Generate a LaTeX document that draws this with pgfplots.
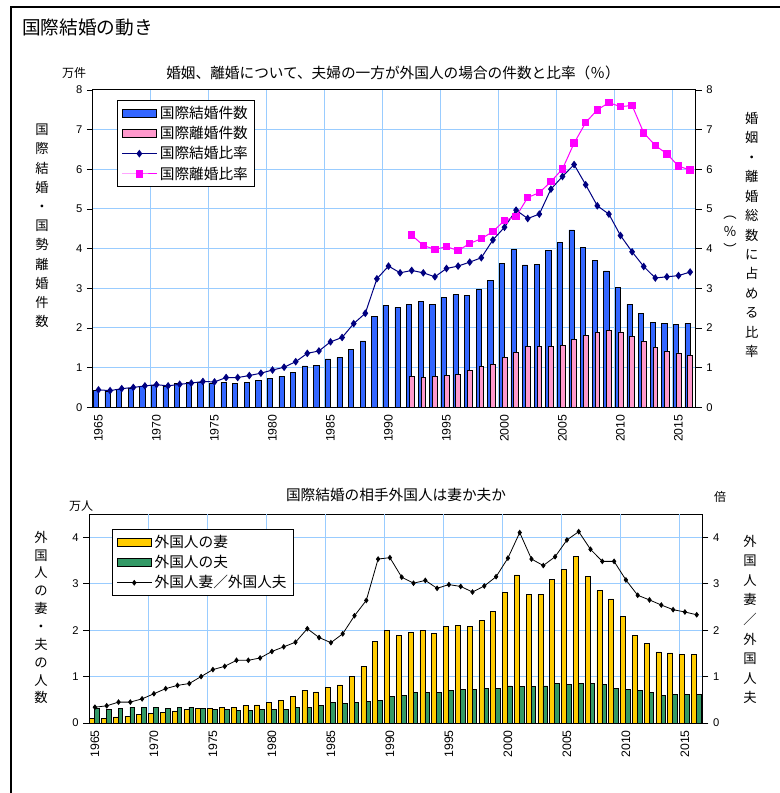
\documentclass[border=0pt]{standalone}
\usepackage{fontspec}
\setmainfont{Liberation Sans}
\newfontfamily\jp{Noto Sans CJK JP}
\usepackage{pgfplots}
\pgfplotsset{compat=1.18}
\definecolor{gridblue}{HTML}{99CCFF}
\definecolor{barblue}{HTML}{3366FF}
\definecolor{barpink}{HTML}{FF99CC}
\definecolor{navyline}{HTML}{000080}
\definecolor{magline}{HTML}{FF00FF}
\definecolor{baryellow}{HTML}{FFCC00}
\definecolor{bargreen}{HTML}{339966}
\pgfplotsset{
  common/.style={
    scale only axis,
    xmin=1964.5, xmax=2016.5,
    xtick={1965,1970,...,2015},
    xticklabels={1965,1970,1975,1980,1985,1990,1995,2000,2005,2010,2015},
    xtick style={draw=none},
    extra x ticks={1969.5,1974.5,...,2014.5},
    extra x tick labels={},
    extra x tick style={grid=major, tick style={draw=none}},
    ymajorgrids=true,
    major grid style={gridblue, line width=0.75pt},
    ytick pos=left,
    tick align=outside,
    major tick length=4.3pt,
    ytick style={black, line width=0.6pt},
    axis line style={black, line width=0.75pt},
    ticklabel style={font=\fontsize{8.4}{10}\selectfont},
    /pgf/number format/assume math mode=true,
    /pgf/number format/1000 sep={},
    xticklabel style={rotate=90, anchor=east, inner sep=1pt, font=\fontsize{9.2}{10}\selectfont},
    legend cell align=left,
    legend style={font=\jp\fontsize{11}{13}\selectfont, draw=black, line width=0.75pt,
      inner xsep=3pt, inner ysep=2pt, row sep=0.5pt},
  },
  rightax/.style={
    scale only axis,
    xmin=1964.5, xmax=2016.5,
    axis x line=none, axis y line*=right,
    tick align=outside,
    major tick length=4.3pt,
    ytick style={black, line width=0.6pt},
    axis line style={black, line width=0.75pt},
    ticklabel style={font=\fontsize{8.4}{10}\selectfont},
    /pgf/number format/assume math mode=true,
  },
  barleg/.style={legend image code/.code={\draw[##1] (0pt,-3pt) rectangle (26pt,3pt);}},
  lineleg/.style={legend image code/.code={\draw[mark repeat=2,mark phase=2,##1] plot coordinates {(0pt,0pt) (13pt,0pt) (26pt,0pt)};}},
}
\begin{document}
\begin{tikzpicture}
\useasboundingbox (0,0) rectangle (584.25pt,594.75pt);
\draw[line width=1.8pt] (8.25pt,-2pt) -- (8.25pt,589.5pt) -- (586pt,589.5pt);
\node[font=\jp\fontsize{14}{16}\selectfont, anchor=west, inner sep=0pt] at (16.5pt,574.5pt) {国際結婚の動き};

% ---------- top chart ----------
\node[font=\jp\fontsize{11}{13}\selectfont, inner sep=0pt] at (294.75pt,540pt) {婚姻、離婚について、夫婦の一方が外国人の場合の件数と比率（％）};
\node[font=\jp\fontsize{9}{11}\selectfont, inner sep=0pt] at (55.5pt,540pt) {万件};
\node[font=\jp\fontsize{10}{14.4}\selectfont, align=center, inner sep=0pt] at (31.5pt,425.25pt) {国\\際\\結\\婚\\・\\国\\勢\\離\\婚\\件\\数};
\node[font=\jp\fontsize{10}{14.6}\selectfont, align=center, inner sep=0pt] at (563.8pt,418.5pt) {婚\\姻\\・\\離\\婚\\総\\数\\に\\占\\め\\る\\比\\率};
\node[font=\jp\fontsize{10}{13.5}\selectfont, align=center, inner sep=0pt] at (547.5pt,418.5pt) {︵\\％\\︶};

\begin{axis}[common, at={(69.53pt,289.28pt)}, anchor=south west, width=452.4pt, height=237.98pt,
  ymin=0, ymax=8, ytick={0,...,8},
  legend style={at={(0.0403,0.9685)}, anchor=north west}]
\addplot[ybar, bar width=3.9pt, bar shift=-1.95pt, fill=barblue, draw=black, line width=0.5pt, barleg] coordinates {
(1965,0.416) (1966,0.41) (1967,0.45) (1968,0.48) (1969,0.52) (1970,0.555) (1971,0.54) (1972,0.60) (1973,0.62) (1974,0.64)
(1975,0.605) (1976,0.62) (1977,0.60) (1978,0.63) (1979,0.67) (1980,0.726) (1981,0.78) (1982,0.88) (1983,1.045) (1984,1.06)
(1985,1.218) (1986,1.253) (1987,1.458) (1988,1.672) (1989,2.284) (1990,2.563) (1991,2.516) (1992,2.586) (1993,2.666) (1994,2.599)
(1995,2.773) (1996,2.837) (1997,2.825) (1998,2.964) (1999,3.19) (2000,3.626) (2001,3.973) (2002,3.588) (2003,3.604) (2004,3.951)
(2005,4.148) (2006,4.47) (2007,4.027) (2008,3.697) (2009,3.439) (2010,3.021) (2011,2.593) (2012,2.366) (2013,2.149) (2014,2.113)
(2015,2.098) (2016,2.118)};
\addlegendentry{国際結婚件数}
\addplot[ybar, bar width=3.5pt, bar shift=0pt, fill=barpink, draw=black, line width=0.5pt, barleg] coordinates {
(1992,0.77) (1993,0.76) (1994,0.77) (1995,0.80) (1996,0.83) (1997,0.92) (1998,1.04) (1999,1.09) (2000,1.26) (2001,1.38)
(2002,1.53) (2003,1.53) (2004,1.54) (2005,1.57) (2006,1.71) (2007,1.82) (2008,1.88) (2009,1.94) (2010,1.90) (2011,1.78)
(2012,1.66) (2013,1.52) (2014,1.41) (2015,1.37) (2016,1.30)};
\addlegendentry{国際離婚件数}
\addplot[navyline, line width=0.75pt, mark=diamond*, mark size=2.3pt, lineleg] coordinates {
(1965,0.44) (1966,0.42) (1967,0.47) (1968,0.50) (1969,0.54) (1970,0.57) (1971,0.54) (1972,0.58) (1973,0.61) (1974,0.65)
(1975,0.64) (1976,0.75) (1977,0.75) (1978,0.80) (1979,0.86) (1980,0.94) (1981,1.01) (1982,1.15) (1983,1.36) (1984,1.42)
(1985,1.65) (1986,1.76) (1987,2.11) (1988,2.37) (1989,3.24) (1990,3.56) (1991,3.39) (1992,3.45) (1993,3.39) (1994,3.29)
(1995,3.50) (1996,3.56) (1997,3.66) (1998,3.77) (1999,4.22) (2000,4.54) (2001,4.97) (2002,4.76) (2003,4.87) (2004,5.50)
(2005,5.82) (2006,6.12) (2007,5.61) (2008,5.08) (2009,4.87) (2010,4.33) (2011,3.92) (2012,3.55) (2013,3.26) (2014,3.29)
(2015,3.32) (2016,3.41)};
\addlegendentry{国際結婚比率}
\addplot[magline, line width=0.75pt, mark=square*, mark size=2.4pt, lineleg] coordinates {
(1992,4.34) (1993,4.08) (1994,3.98) (1995,4.05) (1996,3.95) (1997,4.13) (1998,4.25) (1999,4.43) (2000,4.71) (2001,4.81)
(2002,5.29) (2003,5.41) (2004,5.69) (2005,6.01) (2006,6.66) (2007,7.18) (2008,7.50) (2009,7.68) (2010,7.58) (2011,7.61)
(2012,6.92) (2013,6.60) (2014,6.39) (2015,6.08) (2016,5.98)};
\addlegendentry{国際離婚比率}
\end{axis}
\begin{axis}[rightax, at={(69.53pt,289.28pt)}, anchor=south west, width=452.4pt, height=237.98pt,
  ymin=0, ymax=8, ytick={0,...,8}]
\addplot[draw=none] coordinates {(1965,0)};
\end{axis}

% ---------- bottom chart ----------
\node[font=\jp\fontsize{11}{13}\selectfont, inner sep=0pt] at (297pt,223.5pt) {国際結婚の相手外国人は妻か夫か};
\node[font=\jp\fontsize{9}{11}\selectfont, inner sep=0pt] at (60.75pt,215.25pt) {万人};
\node[font=\jp\fontsize{9}{11}\selectfont, inner sep=0pt] at (540pt,222pt) {倍};
\node[font=\jp\fontsize{10}{13.4}\selectfont, align=center, inner sep=0pt] at (30.75pt,131.6pt) {外\\国\\人\\の\\妻\\・\\夫\\の\\人\\数};
\node[font=\jp\fontsize{10}{14.7}\selectfont, align=center, inner sep=0pt] at (562.5pt,130.1pt) {外\\国\\人\\妻\\／\\外\\国\\人\\夫};

\begin{axis}[common, at={(66.75pt,52.5pt)}, anchor=south west, width=460.2pt, height=156.75pt,
  ymin=0, ymax=4.5, ytick={0,...,4},
  legend style={at={(0.0375,0.928)}, anchor=north west}]
\addplot[ybar, bar width=3.75pt, bar shift=-2.2pt, fill=baryellow, draw=black, line width=0.5pt, barleg] coordinates {
(1965,0.10) (1966,0.10) (1967,0.13) (1968,0.15) (1969,0.18) (1970,0.20) (1971,0.23) (1972,0.26) (1973,0.29) (1974,0.31)
(1975,0.31) (1976,0.34) (1977,0.34) (1978,0.37) (1979,0.39) (1980,0.44) (1981,0.49) (1982,0.57) (1983,0.70) (1984,0.67)
(1985,0.77) (1986,0.82) (1987,1.00) (1988,1.22) (1989,1.76) (1990,1.99) (1991,1.89) (1992,1.95) (1993,1.99) (1994,1.92)
(1995,2.08) (1996,2.10) (1997,2.08) (1998,2.20) (1999,2.41) (2000,2.82) (2001,3.19) (2002,2.77) (2003,2.77) (2004,3.09)
(2005,3.30) (2006,3.58) (2007,3.16) (2008,2.85) (2009,2.67) (2010,2.29) (2011,1.89) (2012,1.71) (2013,1.53) (2014,1.51)
(2015,1.48) (2016,1.48)};
\addlegendentry{外国人の妻}
\addplot[ybar, bar width=3.5pt, bar shift=1.4pt, fill=bargreen, draw=black, line width=0.5pt, barleg] coordinates {
(1965,0.32) (1966,0.29) (1967,0.32) (1968,0.34) (1969,0.34) (1970,0.34) (1971,0.32) (1972,0.34) (1973,0.34) (1974,0.31)
(1975,0.29) (1976,0.29) (1977,0.27) (1978,0.27) (1979,0.29) (1980,0.29) (1981,0.29) (1982,0.34) (1983,0.34) (1984,0.37)
(1985,0.44) (1986,0.42) (1987,0.44) (1988,0.47) (1989,0.49) (1990,0.57) (1991,0.60) (1992,0.65) (1993,0.66) (1994,0.66)
(1995,0.70) (1996,0.72) (1997,0.72) (1998,0.75) (1999,0.75) (2000,0.80) (2001,0.78) (2002,0.78) (2003,0.80) (2004,0.85)
(2005,0.83) (2006,0.86) (2007,0.85) (2008,0.83) (2009,0.75) (2010,0.73) (2011,0.70) (2012,0.65) (2013,0.59) (2014,0.62)
(2015,0.62) (2016,0.62)};
\addlegendentry{外国人の夫}
\addplot[black, line width=0.6pt, mark=diamond*, mark size=1.7pt, lineleg] coordinates {
(1965,0.34) (1966,0.37) (1967,0.45) (1968,0.45) (1969,0.52) (1970,0.63) (1971,0.74) (1972,0.81) (1973,0.85) (1974,1.00)
(1975,1.15) (1976,1.22) (1977,1.35) (1978,1.35) (1979,1.40) (1980,1.54) (1981,1.64) (1982,1.74) (1983,2.03) (1984,1.84)
(1985,1.73) (1986,1.92) (1987,2.31) (1988,2.64) (1989,3.53) (1990,3.56) (1991,3.14) (1992,3.01) (1993,3.07) (1994,2.90)
(1995,2.98) (1996,2.94) (1997,2.82) (1998,2.95) (1999,3.15) (2000,3.55) (2001,4.10) (2002,3.53) (2003,3.39) (2004,3.58)
(2005,3.94) (2006,4.12) (2007,3.74) (2008,3.48) (2009,3.48) (2010,3.08) (2011,2.75) (2012,2.65) (2013,2.54) (2014,2.44)
(2015,2.39) (2016,2.33)};
\addlegendentry{外国人妻／外国人夫}
\end{axis}
\begin{axis}[rightax, at={(66.75pt,52.5pt)}, anchor=south west, width=460.2pt, height=156.75pt,
  ymin=0, ymax=4.5, ytick={0,...,4}]
\addplot[draw=none] coordinates {(1965,0)};
\end{axis}
\end{tikzpicture}
\end{document}
